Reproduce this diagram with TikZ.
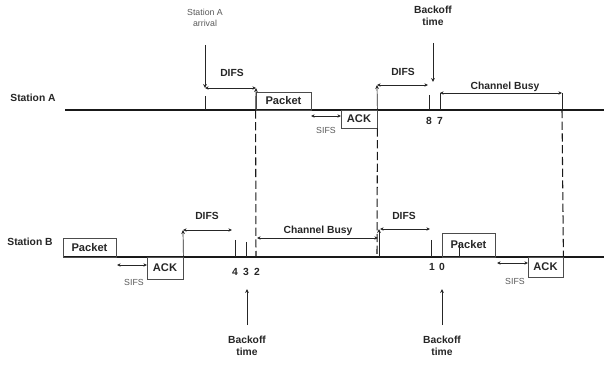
\documentclass[tikz,border=0pt]{standalone}
\usepackage{fontspec}
\setmainfont{Liberation Sans}
\usetikzlibrary{arrows.meta}

\begin{document}
\begin{tikzpicture}[x=0.03cm,y=-0.03cm,
  tl/.style={line width=1.2pt,black!90},
  box/.style={draw=black!70,line width=0.7pt,inner sep=0pt,font=\bfseries\fontsize{9.5}{10}\selectfont,text=black!85},
  lbl/.style={font=\bfseries\fontsize{8.8}{10}\selectfont,text=black!85,inner sep=1pt},
  note/.style={font=\fontsize{7.5}{9}\selectfont,text=black!65,align=center,inner sep=1pt},
  dim/.style={{Stealth[length=1.1mm,width=1mm]}-{Stealth[length=1.1mm,width=1mm]},line width=0.6pt,black!85},
  a/.style={-{Stealth[length=1.2mm,width=1.1mm]},line width=0.6pt,black!85},
  tick/.style={line width=0.6pt,black!85},
  dsh/.style={line width=0.9pt,black!90,dash pattern=on 7pt off 3pt}]
\useasboundingbox (0,0) rectangle (604,367);

% station A
\coordinate (a0) at (65,110); \coordinate (a1) at (604,110);
\draw[tl] (a0) -- (a1);
\node[lbl] (sta) at (33,98) {Station A};
\node[note] (arr) at (205,18) {Station A\\arrival};
\coordinate (arr1) at (205,45); \coordinate (arr2) at (205,88);
\draw[a] (arr1) -- (arr2);
\draw[tick] (205,96) -- (205,110);
\node[box,minimum width=1.65cm,minimum height=0.54cm] (pktA) at (283.5,101) {Packet};
\draw[dim] (arr2) -- (256,88);
\node[lbl] (difsA1) at (232,73) {DIFS};
\draw[a] (pktA.south west) -- (256,88);
\node[box,minimum width=1.08cm,minimum height=0.54cm] (ackA) at (359,119) {ACK};
\draw[dim] (311,116) -- (341,116);
\node[note] (sifsA) at (326,130) {SIFS};
\draw[a] (ackA.north east) -- (377,85);
\draw[dim] (377,85) -- (428,85);
\node[lbl] (difsA2) at (403,72) {DIFS};
\node[lbl,align=center] (boA) at (433,16) {Backoff\\time};
\coordinate (boA1) at (433,43); \coordinate (boA2) at (433,82);
\draw[a] (boA1) -- (boA2);
\draw[tick] (429,95) -- (429,110);
\draw[tick] (440,93) -- (440,110);
\node[lbl] (n8) at (429,121) {8};
\node[lbl] (n7) at (440,121) {7};
\coordinate (cbA1) at (440,93); \coordinate (cbA2) at (562,93);
\draw[dim] (cbA1) -- (cbA2);
\node[lbl] (cbA) at (505,87) {Channel Busy};
\draw[tick] (cbA2) -- (562,110);

% station B
\coordinate (b0) at (63,257); \coordinate (b1) at (604,257);
\draw[tl] (b0) -- (b1);
\node[lbl] (stb) at (30,242) {Station B};
\node[box,minimum width=1.59cm,minimum height=0.57cm] (pktB1) at (89.5,247.5) {Packet};
\node[box,minimum width=1.08cm,minimum height=0.66cm] (ackB1) at (165,268) {ACK};
\draw[dim] (117,265) -- (147,265);
\node[note] (sifsB1) at (134,282) {SIFS};
\draw[a] (ackB1.north east) -- (183,230);
\draw[dim] (183,230) -- (232,230);
\node[lbl] (difsB1) at (207,216) {DIFS};
\draw[tick] (235,240) -- (235,257);
\draw[tick] (246,242) -- (246,257);
\node[lbl] (n4) at (235,272) {4};
\node[lbl] (n3) at (246,272) {3};
\node[lbl] (n2) at (257,272) {2};
\node[lbl,align=center] (boB1) at (247,346) {Backoff\\time};
\coordinate (boB11) at (247,325); \coordinate (boB12) at (247,289);
\draw[a] (boB11) -- (boB12);
\draw[dim] (257,238) -- (378,238);
\node[lbl] (cbB) at (318,231) {Channel Busy};
\draw[a] (379,257) -- (379,229);
\draw[dim] (380,229) -- (430,229);
\node[lbl] (difsB2) at (404,216) {DIFS};
\draw[tick] (431,240) -- (431,257);
\node[box,minimum width=1.59cm,minimum height=0.72cm] (pktB2) at (468.5,245) {Packet};
\draw[tick] (459,243) -- (459,257);
\node[lbl] (n1) at (432,267) {1};
\node[lbl] (n0) at (442,267) {0};
\node[lbl,align=center] (boB2) at (442,346) {Backoff\\time};
\coordinate (boB21) at (442,325); \coordinate (boB22) at (442,289);
\draw[a] (boB21) -- (boB22);
\node[box,minimum width=1.05cm,minimum height=0.6cm] (ackB2) at (545.5,267) {ACK};
\draw[dim] (497,263) -- (528,263);
\node[note] (sifsB2) at (515,281) {SIFS};

% dashed links between the stations
\draw[dsh] (pktA.south west) -- (256,257);
\draw[dsh] (ackA.south east) -- (377,257);
\draw[dsh] (562,110) -- (ackB2.north east);
\end{tikzpicture}
\end{document}
